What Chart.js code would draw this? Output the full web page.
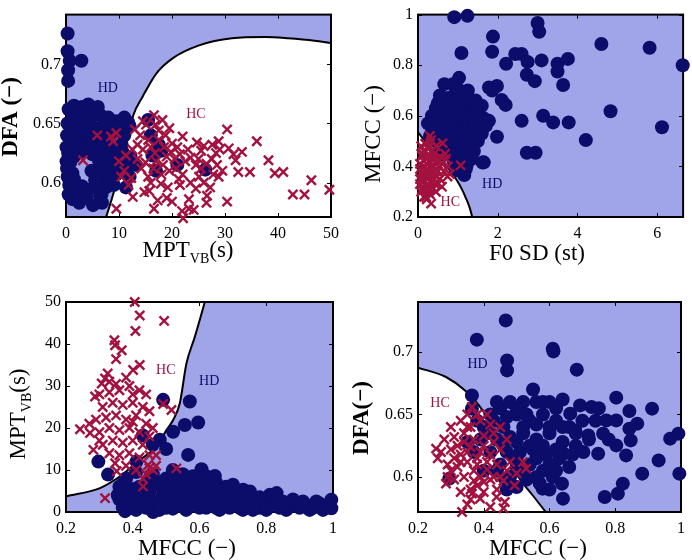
<!DOCTYPE html>
<html><head><meta charset="utf-8">
<script src="https://cdn.jsdelivr.net/npm/chart.js@4.4.0/dist/chart.umd.min.js"></script>
<style>
html,body{margin:0;padding:0;background:#fff;}
#wrap{position:relative;width:692px;height:560px;}
.cell{position:absolute;width:346px;height:280px;}
canvas{display:block;}
</style></head><body>
<div id="wrap">
 <div class="cell" style="left:0;top:0"><canvas id="c1" width="346" height="280"></canvas></div>
 <div class="cell" style="left:346px;top:0"><canvas id="c2" width="346" height="280"></canvas></div>
 <div class="cell" style="left:0;top:280px"><canvas id="c3" width="346" height="280"></canvas></div>
 <div class="cell" style="left:346px;top:280px"><canvas id="c4" width="346" height="280"></canvas></div>
</div>
<script>
// panel 1 : MPT_VB (x) vs DFA (y)
const hdP1 = [[0.3,0.726],[0.3,0.711],[0.7,0.703],[2.9,0.703],[0.4,0.695],[0.4,0.686],
  [11.7,0.651],[15.5,0.653],[13.2,0.615],[11.3,0.596],[12,0.605],[16.3,0.623],[21,0.615],[26.3,0.611],[17.5,0.632],[16,0.64],[18,0.627],[17,0.61],
  [0.5,0.662],[1.5,0.665],[2.5,0.66],[4.2,0.666],[5,0.662],[6.5,0.657],[8,0.655],[9.5,0.652],[3.5,0.655],
  [0.3,0.65],[1.2,0.648],[2.2,0.652],[3.2,0.645],[4.5,0.65],[5.8,0.646],[7.2,0.644],[8.5,0.641],[10,0.645],
  [0.2,0.64],[1,0.636],[2,0.638],[3,0.633],[4,0.637],[5.2,0.632],[6.5,0.635],[7.8,0.63],[9,0.628],[10.5,0.632],
  [0.4,0.625],[1.5,0.622],[2.7,0.626],[5,0.624],[6.2,0.619],[7.5,0.621],[8.8,0.615],[10.2,0.618],
  [0.2,0.612],[1.2,0.608],[4.8,0.61],[6,0.605],[7,0.609],[8.2,0.603],[9.5,0.607],
  [0.6,0.598],[1.8,0.595],[3,0.597],[4.2,0.594],[5.6,0.597],[6.4,0.589],[7.5,0.596],
  [1.3,0.586],[2.5,0.583],[5.1,0.581],[6.7,0.59],[3.8,0.588],[0.3,0.605],[0.1,0.63],[0.1,0.618],
  [1,0.66],[3,0.664],[6,0.664],[7.5,0.65],[9,0.648],[11,0.64],[10.8,0.625],[11.5,0.612],[2.5,0.645],[4,0.642],[5.5,0.64],[7,0.638],
  [1.8,0.63],[3.5,0.628],[6,0.627],[8.5,0.622],[0.8,0.617],[6.5,0.613],[9.5,0.612],[1.5,0.603],[5.5,0.602],[8,0.598],
  [0.5,0.59],[6.8,0.583],[9,0.598],[12,0.648],[11,0.655],[12.2,0.622],[4.5,0.657],[2,0.59]];
const hcP1 = [[3.2,0.619],[5.9,0.64],[8.5,0.639],[9.5,0.642],[8.9,0.635],[9.5,0.578],[11.3,0.623],[10.4,0.605],[12.3,0.604],[12.6,0.588],[10,0.618],[11,0.61],
  [16.6,0.657],[15.1,0.649],[16.9,0.649],[18.2,0.653],[19.5,0.646],[17.5,0.644],[14,0.64],
  [13.5,0.632],[14.5,0.628],[15.5,0.636],[16,0.63],[16.8,0.625],[17.5,0.636],[18.5,0.63],[19,0.622],[19.8,0.626],[20.5,0.62],[21.5,0.624],
  [22.5,0.618],[23.5,0.621],[24.5,0.615],[25.5,0.612],[26.5,0.616],[27.5,0.62],[28.3,0.625],[28.5,0.615],[29,0.628],
  [22,0.639],[24.7,0.634],[26,0.631],[25.5,0.627],[27.6,0.632],[28.8,0.635],[30.4,0.645],[30.7,0.629],[31.6,0.624],[32,0.619],[33.2,0.626],
  [32.5,0.609],[34.7,0.609],[36,0.635],[38.2,0.619],[39.4,0.608],[41,0.609],[42.8,0.59],[45,0.59],[46.3,0.602],[49.7,0.594],
  [30.4,0.584],[27.2,0.596],[26.6,0.589],[26.5,0.583],[28.8,0.605],[25.1,0.605],[26,0.6],[21.3,0.603],[21.5,0.598],[20,0.584],[19,0.587],
  [21.9,0.576],[22.1,0.57],[23.2,0.578],[24.1,0.577],[23.2,0.586],[16.6,0.578],[17.3,0.585],[17.9,0.599],[15.7,0.593],[14.8,0.592],
  [15.5,0.605],[14.2,0.612],[13.5,0.62],[15,0.617],[16.5,0.612],[18,0.607],[19.5,0.61],[20.8,0.612],[22,0.607],[23.5,0.6],[24.5,0.595],
  [13,0.645],[14.5,0.652],[18.8,0.64],[20,0.633],[21,0.63],[23,0.628],[12.5,0.628],[17,0.618],[18.3,0.615],[19.2,0.596],[16,0.6],
  [25,0.62],[29.5,0.61],[27.8,0.607],[11.8,0.598]];
const edgeP1 = [[7.5,0.570],[9.2,0.595],[10.4,0.619],[11.3,0.632],[12.7,0.657],[14.5,0.673],[17,0.692],[20.1,0.705],[25.1,0.716],[31.3,0.722],[37.5,0.723],[41.9,0.722],[46.9,0.72],[50,0.718]];
const xtP1 = [0,10,20,30,40,50];
const ytP1 = [0.6,0.65,0.7];

// panel 2 : F0 SD (x) vs MFCC (y)
const hdP2 = [[0.91,0.99],[1.24,0.995],[3.0,0.967],[3.04,0.932],[1.88,0.913],[1.86,0.853],[1.09,0.848],[2.44,0.844],[2.6,0.844],[2.75,0.813],
  [3.1,0.819],[2.21,0.806],[3.5,0.806],[3.76,0.825],[3.5,0.775],[2.73,0.762],[2.93,0.737],[3.64,0.722],[4.6,0.884],[5.81,0.869],[6.64,0.8],
  [1.03,0.75],[0.66,0.725],[0.87,0.725],[1.16,0.687],[1.78,0.712],[1.98,0.718],[1.86,0.7],[2.1,0.662],[2.2,0.643],[2.6,0.58],[3.14,0.6],
  [3.39,0.574],[3.78,0.574],[4.83,0.618],[6.12,0.555],[4.21,0.504],[2.73,0.454],[2.95,0.454],[1.65,0.416],[1.98,0.517],[1.78,0.58],[1.53,0.643],
  [0.4,0.6],[0.5,0.62],[0.6,0.58],[0.75,0.6],[0.9,0.62],[1.0,0.64],[1.2,0.63],[1.35,0.62],[1.5,0.6],[1.65,0.59],
  [0.35,0.55],[0.5,0.56],[0.65,0.54],[0.8,0.56],[0.95,0.55],[1.1,0.57],[1.25,0.56],[1.4,0.55],[1.6,0.53],
  [0.45,0.5],[0.6,0.51],[0.75,0.5],[0.9,0.51],[1.05,0.5],[1.2,0.52],[1.35,0.49],[1.5,0.5],
  [0.8,0.47],[0.95,0.46],[1.1,0.45],[1.25,0.47],[0.9,0.42],[1.05,0.41],[1.2,0.43],[0.95,0.385],[1.16,0.366],[1.22,0.404],[1.62,0.415],
  [0.6,0.65],[0.75,0.67],[0.9,0.68],[1.05,0.7],[1.25,0.7],[0.55,0.68],[0.7,0.63],[1.45,0.66],[1.6,0.64],[1.3,0.6],[1.0,0.59],[0.85,0.53],
  [0.3,0.52],[0.25,0.57],[0.45,0.45],[0.55,0.47],
  [0.35,0.6],[0.45,0.63],[0.55,0.6],[0.65,0.61],[0.8,0.64],[0.95,0.66],[1.1,0.66],[1.3,0.66],[0.4,0.52],[0.55,0.53],[0.7,0.52],[1.0,0.53],
  [1.15,0.49],[1.3,0.53],[1.45,0.57],[0.65,0.48],[0.85,0.49],[1.0,0.47],[1.4,0.46],[0.4,0.57],[1.15,0.6],[0.85,0.58],[0.6,0.56],[1.2,0.39],
  [1.35,0.43],[0.75,0.45],[0.5,0.65],[0.45,0.55],[1.7,0.56],[1.45,0.62]];
const hcP2 = [[0.33,0.504],[0.62,0.492],[0.33,0.253],[0.22,0.27],[1.07,0.404],[0.74,0.36],[0.3,0.52],[0.45,0.48],[0.15,0.46],[0.25,0.47],
  [0.4,0.45],[0.55,0.44],[0.7,0.43],[0.1,0.44],[0.2,0.43],[0.3,0.42],[0.45,0.41],[0.6,0.41],[0.75,0.4],[0.05,0.41],[0.15,0.4],[0.25,0.39],
  [0.35,0.4],[0.5,0.38],[0.65,0.38],[0.1,0.37],[0.2,0.36],[0.3,0.37],[0.4,0.35],[0.55,0.35],[0.05,0.35],[0.15,0.34],[0.25,0.33],[0.35,0.32],
  [0.5,0.33],[0.1,0.31],[0.2,0.3],[0.3,0.29],[0.45,0.3],[0.6,0.32],[0.15,0.28],[0.25,0.31],[0.12,0.38],[0.22,0.41],[0.32,0.44],[0.18,0.49],
  [0.08,0.48],[0.38,0.38],[0.28,0.36],[0.42,0.33],[0.8,0.37],[0.68,0.45],
  [0.05,0.39],[0.15,0.42],[0.25,0.44],[0.35,0.46],[0.05,0.33],[0.2,0.38],[0.3,0.34],[0.4,0.4],[0.5,0.42],[0.1,0.35],[0.22,0.32],
  [0.35,0.36],[0.45,0.36],[0.12,0.45],[0.28,0.48],[0.2,0.28],[0.3,0.31],[0.4,0.43],[0.55,0.4],[0.08,0.3]];
const edgeP2 = [[0,0.536],[0.13,0.509],[0.3,0.475],[0.5,0.44],[0.7,0.405],[0.95,0.351],[1.1,0.31],[1.2,0.275],[1.3,0.235],[1.36,0.2]];
const xtP2 = [0,2,4,6];
const ytP2 = [0.2,0.4,0.6,0.8,1];

// panel 3 : MFCC (x) vs MPT_VB (y)
const hdP3 = [[0.491,26.7],[0.571,26.3],[0.556,20.7],[0.596,21.3],[0.521,19.1],[0.481,17.2],[0.43,18.2],[0.566,13.6],[0.297,12],[0.411,12],
  [0.326,8.9],[0.606,10.2],[0.646,8.6],[0.731,5.3],[0.751,4.9],[0.811,4.1],[0.831,4.5],[0.995,2.9],[0.995,0.9],[0.377,0.2],[0.461,0],
  [0.372,6.9],[0.5,15],[0.46,16],[0.52,10],
  [0.36,6],[0.36,3],[0.37,1],[0.39,4.5],[0.4,2],[0.42,6],[0.42,3],[0.44,1],[0.45,5],[0.47,2.5],[0.48,7],[0.49,4],[0.5,1],[0.51,6],[0.52,3],
  [0.53,8],[0.54,5],[0.55,1.5],[0.56,3.5],[0.57,6.5],[0.58,2],[0.59,4.5],[0.6,1],[0.61,3],[0.62,6],[0.63,2],[0.64,4],[0.65,1],[0.66,3],
  [0.67,5],[0.68,1.5],[0.69,3.5],[0.7,2],[0.71,4],[0.72,1],[0.74,3],[0.75,1.5],[0.77,2.5],[0.78,1],[0.8,3],[0.8,1.5],[0.82,2],[0.84,1],
  [0.85,2.5],[0.87,1.5],[0.89,2],[0.9,1],[0.92,1.5],[0.94,1],[0.96,2],[0.98,1.5],[0.46,9],[0.5,8],[0.55,9],[0.6,7],[0.65,7],[0.43,4],
  [0.38,8],[0.41,9.5],[0.56,7.5],[0.62,8.5],
  [0.355,4],[0.38,2.5],[0.4,5.5],[0.41,0.5],[0.43,2],[0.45,3],[0.46,6.5],[0.48,0.5],[0.49,5.5],[0.5,3],[0.52,0.8],[0.53,5],[0.55,4],
  [0.56,0.5],[0.57,2.5],[0.59,6],[0.6,3],[0.62,1],[0.62,4.5],[0.64,2.5],[0.66,0.5],[0.67,3.5],[0.69,1],[0.7,5],[0.72,2.5],[0.73,0.5],
  [0.75,3.5],[0.76,0.5],[0.78,3.5],[0.8,0.5],[0.83,3],[0.86,0.5],[0.88,3],[0.91,2.5],[0.93,0.5],[0.95,2.5],[0.97,0.5],[0.99,1.8],
  [0.45,8],[0.53,6.5],[0.58,8.5],[0.68,6],[0.7,6.5]];
const hcP3 = [[0.406,50],[0.421,46.8],[0.494,45.5],[0.408,43.1],[0.345,40.9],[0.347,39.7],[0.367,38.5],[0.35,36.4],[0.421,35],[0.401,33.8],
  [0.325,33],[0.317,31.8],[0.307,30.6],[0.287,27.5],[0.491,25.7],[0.516,24.3],[0.242,19.7],[0.272,18.8],[0.282,14.8],[0.347,11.6],
  [0.352,9.7],[0.431,6.1],[0.317,3.3],[0.531,10.4],[0.446,11.2],[0.461,10],
  [0.3,28],[0.33,28.5],[0.36,29],[0.39,30],[0.42,29],[0.44,28],[0.31,25],[0.34,26],[0.37,25.5],[0.4,26],[0.43,25],[0.45,24],
  [0.29,22],[0.32,22.5],[0.35,23],[0.38,22],[0.41,23],[0.44,21],[0.3,19],[0.33,20],[0.36,19.5],[0.39,20],[0.42,19],[0.45,18],
  [0.31,16],[0.34,17],[0.37,16.5],[0.4,17],[0.43,16],[0.33,14],[0.36,13.5],[0.39,14],[0.42,13],[0.45,13.5],[0.38,11],[0.41,10],
  [0.44,9],[0.47,11],[0.43,8],[0.35,30.5],[0.38,32],[0.33,31],[0.4,28],[0.45,10.5],[0.3,17],[0.47,13.5],[0.27,21],[0.4,21.5],[0.46,20]];
const edgeP3 = [[0.2,3.7],[0.302,5.7],[0.362,8.5],[0.421,12.4],[0.471,15.6],[0.501,19.5],[0.521,21.9],[0.541,25.9],[0.561,35.4],[0.586,41.7],[0.616,50]];
const xtP3 = [0.2,0.4,0.6,0.8,1];
const ytP3 = [0,10,20,30,40,50];

// panel 4 : MFCC (x) vs DFA (y)
const hdP4 = [[0.467,0.7253],[0.379,0.7099],[0.471,0.6933],[0.471,0.6853],[0.61,0.7027],[0.612,0.7005],[0.683,0.6859],[0.364,0.6653],
  [0.364,0.6547],[0.803,0.6635],[0.912,0.6547],[0.843,0.6528],[0.728,0.656],[0.693,0.6573],[0.663,0.6507],[0.773,0.6453],[0.803,0.6453],
  [0.867,0.6427],[0.843,0.6387],[0.763,0.6347],[0.718,0.6333],[0.678,0.6373],[0.992,0.6347],[0.967,0.6307],[0.847,0.6293],[0.803,0.6253],
  [0.833,0.6173],[0.748,0.6187],[0.703,0.62],[0.643,0.6187],[0.932,0.6133],[0.882,0.6027],[0.995,0.6027],[0.823,0.5947],[0.808,0.5867],
  [0.768,0.584],[0.638,0.5947],[0.579,0.5907],[0.641,0.5827],[0.464,0.5987],[0.295,0.5987],
  [0.42,0.65],[0.45,0.655],[0.48,0.66],[0.52,0.66],[0.56,0.66],[0.6,0.66],[0.64,0.662],[0.4,0.64],[0.43,0.645],[0.46,0.64],[0.5,0.65],
  [0.54,0.645],[0.58,0.65],[0.62,0.645],[0.66,0.64],[0.44,0.63],[0.48,0.632],[0.52,0.635],[0.56,0.63],[0.6,0.635],[0.64,0.628],
  [0.47,0.62],[0.51,0.62],[0.55,0.622],[0.59,0.618],[0.63,0.615],[0.5,0.608],[0.54,0.61],[0.58,0.605],[0.62,0.605],[0.53,0.598],
  [0.57,0.595],[0.39,0.63],[0.42,0.62],[0.45,0.61],[0.48,0.6],[0.37,0.62],[0.4,0.605],[0.68,0.625],[0.7,0.645],[0.66,0.608],[0.35,0.628],
  [0.38,0.645],[0.55,0.67],[0.52,0.64],
  [0.44,0.66],[0.5,0.655],[0.58,0.66],[0.62,0.655],[0.47,0.648],[0.53,0.65],[0.56,0.642],[0.6,0.64],[0.64,0.64],[0.42,0.635],[0.46,0.625],
  [0.5,0.628],[0.54,0.625],[0.58,0.625],[0.62,0.622],[0.5,0.615],[0.56,0.615],[0.6,0.61],[0.52,0.603],[0.56,0.6],[0.61,0.6],[0.44,0.605],
  [0.68,0.635],[0.67,0.618],[0.74,0.645],[0.72,0.63],[0.78,0.63],[0.75,0.655],[0.5,0.592],[0.47,0.59],[0.6,0.59]];
const hcP4 = [[0.364,0.656],[0.255,0.6227],[0.285,0.5947],[0.334,0.572],[0.494,0.5933],[0.529,0.6067],[0.519,0.612],[0.439,0.584],
  [0.464,0.58],[0.389,0.5827],[0.364,0.5867],
  [0.3,0.64],[0.33,0.645],[0.36,0.64],[0.39,0.645],[0.42,0.642],[0.45,0.64],[0.28,0.63],[0.31,0.632],[0.34,0.635],[0.37,0.63],[0.4,0.633],
  [0.43,0.628],[0.27,0.62],[0.3,0.622],[0.33,0.618],[0.36,0.624],[0.39,0.62],[0.42,0.618],[0.45,0.622],[0.29,0.61],[0.32,0.608],
  [0.35,0.612],[0.38,0.61],[0.41,0.606],[0.44,0.61],[0.47,0.605],[0.5,0.603],[0.31,0.598],[0.34,0.6],[0.37,0.597],[0.4,0.596],
  [0.43,0.6],[0.46,0.597],[0.33,0.588],[0.36,0.59],[0.4,0.588],[0.44,0.59],[0.35,0.578],[0.42,0.576],[0.46,0.575],[0.3,0.605],
  [0.38,0.65],[0.35,0.65],[0.41,0.65],[0.48,0.612],[0.26,0.615],
  [0.32,0.625],[0.35,0.62],[0.38,0.615],[0.34,0.628],[0.4,0.625],[0.37,0.605],[0.33,0.612],[0.39,0.6],[0.42,0.598],[0.36,0.582],
  [0.38,0.593],[0.31,0.615],[0.29,0.6],[0.45,0.6],[0.41,0.612],[0.43,0.635],[0.47,0.63],[0.35,0.64]];
const edgeP4 = [[0.2,0.6875],[0.285,0.68],[0.344,0.669],[0.4,0.652],[0.45,0.628],[0.503,0.601],[0.55,0.585],[0.59,0.5715]];
const xtP4 = [0.2,0.4,0.6,0.8,1];
const ytP4 = [0.6,0.65,0.7];

const FONT = "'Liberation Serif','DejaVu Serif',serif";
const BLUE = '#a0a5e9', NAVY = '#0c0c6a', CRIMSON = '#a3123f';

const toXY = arr => arr.map(p => ({x: p[0], y: p[1]}));

function drawParts(ctx, parts, x, y, rot){
  const fontOf = p => (p.b ? 'bold ' : '') + (p.sub ? 14 : 23) + 'px ' + FONT;
  ctx.save();
  ctx.translate(x, y);
  if (rot) ctx.rotate(-Math.PI/2);
  ctx.fillStyle = '#000'; ctx.textAlign = 'left'; ctx.textBaseline = 'alphabetic';
  let w = 0;
  const ws = parts.map(p => { ctx.font = fontOf(p); const m = ctx.measureText(p.t).width; w += m; return m; });
  let cx = -w/2;
  parts.forEach((p, i) => { ctx.font = fontOf(p); ctx.fillText(p.t, cx, p.sub ? 6 : 0); cx += ws[i]; });
  ctx.restore();
}

function makePanel(id, cfg){
  const [aL, aT, aR, aB] = cfg.area;
  const deco = {
    id: 'deco_' + id,
    beforeDraw(chart){
      const a = chart.chartArea, ctx = chart.ctx;
      ctx.save(); ctx.fillStyle = BLUE; ctx.fillRect(a.left, a.top, a.right - a.left, a.bottom - a.top); ctx.restore();
    },
    afterDatasetDraw(chart, args){
      if (args.index !== 2) return;
      const a = chart.chartArea, ctx = chart.ctx, sx = chart.scales.x, sy = chart.scales.y;
      ctx.save();
      ctx.strokeStyle = '#000'; ctx.lineWidth = 1;
      ctx.beginPath();
      cfg.xt.forEach(v => { const p = Math.round(sx.getPixelForValue(v)) + 0.5;
        ctx.moveTo(p, a.bottom); ctx.lineTo(p, a.bottom - 4); ctx.moveTo(p, a.top); ctx.lineTo(p, a.top + 4); });
      cfg.yt.forEach(v => { const p = Math.round(sy.getPixelForValue(v)) + 0.5;
        ctx.moveTo(a.left, p); ctx.lineTo(a.left + 4, p); ctx.moveTo(a.right, p); ctx.lineTo(a.right - 4, p); });
      ctx.stroke();
      ctx.lineWidth = 2;
      ctx.strokeRect(a.left, a.top, a.right - a.left, a.bottom - a.top);
      ctx.restore();
    },
    afterDraw(chart){
      const ctx = chart.ctx, sx = chart.scales.x, sy = chart.scales.y;
      drawParts(ctx, cfg.xTitle, cfg.xTitlePos[0], cfg.xTitlePos[1], false);
      drawParts(ctx, cfg.yTitle, cfg.yTitlePos[0], cfg.yTitlePos[1], true);
      ctx.save();
      ctx.font = '14px ' + FONT; ctx.textAlign = 'center'; ctx.textBaseline = 'middle';
      ctx.fillStyle = NAVY; ctx.fillText('HD', sx.getPixelForValue(cfg.hdLabel[0]), sy.getPixelForValue(cfg.hdLabel[1]));
      ctx.fillStyle = CRIMSON; ctx.fillText('HC', sx.getPixelForValue(cfg.hcLabel[0]), sy.getPixelForValue(cfg.hcLabel[1]));
      ctx.restore();
    }
  };
  const tickFont = {family: FONT, size: 16};
  return new Chart(document.getElementById(id), {
    type: 'scatter',
    data: { datasets: [
      { data: toXY(cfg.hc), pointStyle: 'crossRot', pointRadius: 6.5, borderWidth: 2.4, borderColor: CRIMSON, backgroundColor: CRIMSON, clip: false },
      { data: toXY(cfg.hd), pointStyle: 'circle', pointRadius: 7, borderWidth: 0, backgroundColor: NAVY, clip: false },
      { type: 'line', data: toXY(cfg.edge), pointRadius: 0, borderColor: '#000', borderWidth: 2, backgroundColor: '#fff',
        fill: cfg.fill, cubicInterpolationMode: 'monotone' }
    ]},
    options: {
      responsive: false, animation: false, events: [],
      layout: { padding: { left: 0, top: aT, right: 346 - aR, bottom: 0 } },
      plugins: { legend: { display: false }, tooltip: { enabled: false } },
      scales: {
        x: { type: 'linear', min: cfg.xr[0], max: cfg.xr[1],
          grid: { display: false, drawTicks: false }, border: { display: false },
          ticks: { font: tickFont, color: '#000', padding: 7, maxRotation: 0, autoSkip: false, callback: v => String(v) },
          afterBuildTicks: s => { s.ticks = cfg.xt.map(v => ({value: v})); },
          afterFit: s => { s.height = 280 - aB; } },
        y: { type: 'linear', min: cfg.yr[0], max: cfg.yr[1],
          grid: { display: false, drawTicks: false }, border: { display: false },
          ticks: { font: tickFont, color: '#000', padding: 5, autoSkip: false, callback: v => String(v) },
          afterBuildTicks: s => { s.ticks = cfg.yt.map(v => ({value: v})); },
          afterFit: s => { s.width = aL; } }
      }
    },
    plugins: [deco]
  });
}

makePanel('c1', { hd: hdP1, hc: hcP1, edge: edgeP1, fill: 'start', area: [66, 5, 333, 217],
  xr: [0, 50], yr: [0.571, 0.742], xt: xtP1, yt: ytP1,
  xTitle: [{t:'MPT'},{t:'VB',sub:1},{t:'(s)'}], xTitlePos: [188, 257],
  yTitle: [{t:'DFA (−)',b:1}], yTitlePos: [17, 117],
  hdLabel: [7.9, 0.68], hcLabel: [24.5, 0.658] });

makePanel('c2', { hd: hdP2, hc: hcP2, edge: edgeP2, fill: 'start', area: [72, 5, 339, 217],
  xr: [0, 6.65], yr: [0.2, 1], xt: xtP2, yt: ytP2,
  xTitle: [{t:'F0 SD (st)'}], xTitlePos: [191, 260],
  yTitle: [{t:'MFCC (−)'}], yTitlePos: [34, 134],
  hdLabel: [1.86, 0.329], hcLabel: [0.81, 0.258] });

makePanel('c3', { hd: hdP3, hc: hcP3, edge: edgeP3, fill: 'end', area: [66, 22, 333, 232],
  xr: [0.2, 1], yr: [0, 50], xt: xtP3, yt: ytP3,
  xTitle: [{t:'MFCC (−)'}], xTitlePos: [187, 275],
  yTitle: [{t:'MPT'},{t:'VB',sub:1},{t:'(s)'}], yTitlePos: [25, 134],
  hdLabel: [0.629, 31], hcLabel: [0.499, 33.8] });

makePanel('c4', { hd: hdP4, hc: hcP4, edge: edgeP4, fill: 'start', area: [72, 22, 339, 232],
  xr: [0.2, 1], yr: [0.572, 0.74], xt: xtP4, yt: ytP4,
  xTitle: [{t:'MFCC (−)'}], xTitlePos: [192, 275],
  yTitle: [{t:'DFA(−)',b:1}], yTitlePos: [22, 138],
  hdLabel: [0.381, 0.69], hcLabel: [0.267, 0.659] });
</script>
</body></html>
